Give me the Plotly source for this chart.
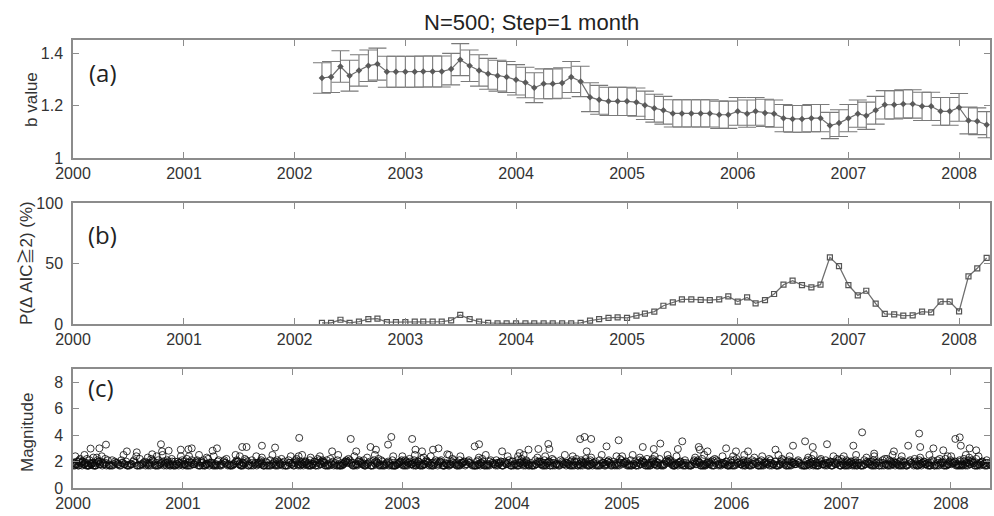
import plotly.graph_objects as go
import pandas as pd

W, H = 994, 516

# ---------------- data ----------------
month_start = "2002-04-01"
b_value = [1.305, 1.309, 1.349, 1.314, 1.334, 1.352, 1.358, 1.329, 1.329, 1.329,
           1.329, 1.330, 1.330, 1.330, 1.339, 1.375, 1.352, 1.334, 1.321, 1.314,
           1.309, 1.298, 1.288, 1.268, 1.283, 1.283, 1.286, 1.309, 1.292, 1.232,
           1.222, 1.216, 1.216, 1.216, 1.213, 1.201, 1.190, 1.182, 1.170, 1.170,
           1.170, 1.170, 1.170, 1.165, 1.165, 1.178, 1.169, 1.178, 1.172, 1.169,
           1.152, 1.149, 1.149, 1.152, 1.152, 1.124, 1.133, 1.152, 1.169, 1.161,
           1.182, 1.203, 1.203, 1.206, 1.206, 1.197, 1.197, 1.178, 1.178, 1.193,
           1.143, 1.140, 1.127]
b_err = [0.058, 0.059, 0.060, 0.059, 0.060, 0.060, 0.061, 0.059, 0.059, 0.059,
         0.059, 0.059, 0.059, 0.059, 0.060, 0.061, 0.060, 0.060, 0.059, 0.059,
         0.059, 0.058, 0.058, 0.057, 0.057, 0.057, 0.058, 0.059, 0.058, 0.055,
         0.055, 0.054, 0.054, 0.054, 0.054, 0.054, 0.053, 0.053, 0.052, 0.052,
         0.052, 0.052, 0.052, 0.052, 0.052, 0.053, 0.052, 0.053, 0.052, 0.052,
         0.052, 0.051, 0.051, 0.052, 0.052, 0.050, 0.051, 0.052, 0.052, 0.052,
         0.053, 0.054, 0.054, 0.054, 0.054, 0.054, 0.054, 0.053, 0.053, 0.053,
         0.051, 0.051, 0.050]
p_aic = [1, 1, 3.5, 1, 2, 4, 4.5, 1.5, 1.5, 1.5,
         2, 2, 2, 2, 3, 7.5, 4, 2, 1, 0.5,
         0.5, 0.5, 0.5, 0.5, 0.5, 0.5, 0.5, 0.5, 1, 2.8,
         4, 5, 5.5, 5, 6.9, 8.5, 10.2, 15.1, 17.8, 20.4,
         20.4, 20, 19.8, 20.4, 22.8, 18.5, 22, 17.1, 19.8, 24.8,
         32.5, 35.8, 32.2, 30.3, 32.5, 55.1, 47.9, 32.2, 23.7, 27.5,
         16.8, 8.3, 8, 6.9, 7.2, 10.2, 9.6, 18.5, 18.5, 10.5,
         39.4, 46, 54.7]

# (c) magnitudes: per year, one group per month; digit d -> M = 1.7 + 0.1*d
mag_band = {
    2000: "1030210412015320 2101403012510230 0120301421023016 10204130215 0130210241 2010320140 "
          "103021041 0210310250 10203014215 012031024017 20103120410253 102013021403",
    2001: "0120130421053 2103102041 1020314012502 01302104120 20130210415 1030120410 "
          "01203104215032 2010301240 1203021041027 0210310240 1023014021503 2010320140",
    2002: "10203014210352 0120310241023 2010302140153 1030210402143 01203021405 2103012041032 "
          "10201304125 0130201402143 2010310240 1023014201305 0210301240 1203102041032",
    2003: "01203102410253 2010301241023 1030210402153 01203014201 2103102041032 10201304125 "
          "0120310240213 2013021040 1020310241035 01302104120 2010301240213 1023010420",
    2004: "0120301240213 20103120410253 1030210240 0120310241023 2010302140153 1023014021 "
          "0130210241032 20103012402153 1020310241035 0120310240 2013021041032 10203014215",
    2005: "0120310240213 2010302140 1030210402153 01203014210352 20130210415 1020130412503 "
          "0120310241023 2013021040 1030210402153 0210301241032 10203014215 2010320140213",
    2006: "01203102415 2010301241023 1030210240 0120310241032 2010302140153 10201304125 "
          "0130210241032 2013021040 1020310241035 01203014210352 2010301240213 10230104205",
    2007: "01203102410253 2010301241023 1030210240 0120310241032 20103021405 1023014021305 "
          "0130210241032 2013021040 1020310241035 0120301421023 20103012405 1030210402153",
    2008: "0120310240213 20103120410253 1030210402153 0120310241023 201302",
}
band_fringe = "7 8 6 7 . 8 7 . 6 8 . 7"

big_events = [
    (2000.16, 2.98), (2000.24, 3.00), (2000.30, 3.28), (2000.49, 2.77), (2000.58, 2.70),
    (2000.72, 2.55), (2000.80, 3.31), (2000.81, 2.77), (2000.87, 2.82), (2000.98, 2.90),
    (2001.05, 2.93), (2001.08, 3.00), (2001.27, 2.82), (2001.31, 3.00), (2001.54, 3.10),
    (2001.58, 3.10), (2001.72, 3.20), (2001.84, 3.06), (2002.06, 3.79), (2002.36, 2.77),
    (2002.53, 3.71), (2002.58, 2.77), (2002.71, 3.10), (2002.76, 2.90), (2002.87, 3.28),
    (2002.90, 3.86), (2003.09, 3.71), (2003.12, 2.90), (2003.18, 2.77), (2003.28, 2.90),
    (2003.33, 3.00), (2003.41, 2.55), (2003.66, 3.15), (2003.70, 3.31), (2003.91, 2.77),
    (2004.07, 2.65), (2004.15, 2.90), (2004.24, 2.95), (2004.33, 3.33), (2004.34, 2.95),
    (2004.62, 3.70), (2004.66, 3.86), (2004.72, 3.71), (2004.68, 2.77), (2004.86, 3.15),
    (2004.97, 3.61), (2005.19, 3.10), (2005.29, 2.95), (2005.35, 3.36), (2005.51, 2.95),
    (2005.55, 3.53), (2005.70, 3.10), (2005.71, 2.90), (2005.78, 2.77), (2005.95, 3.00),
    (2006.04, 2.77), (2006.15, 2.77), (2006.40, 2.90), (2006.56, 3.20), (2006.67, 3.53),
    (2006.74, 3.10), (2006.87, 3.31), (2007.11, 3.20), (2007.19, 4.21), (2007.30, 2.60),
    (2007.48, 2.77), (2007.61, 3.20), (2007.71, 4.12), (2007.72, 3.10), (2007.84, 3.00),
    (2007.93, 2.85), (2008.04, 3.71), (2008.08, 3.83), (2008.09, 3.20), (2008.17, 3.00),
    (2008.23, 2.85),
]

title_text = "N=500; Step=1 month"
panel_labels = ["(a)", "(b)", "(c)"]
y_titles = ["b value", "P(Δ AIC≧2) (%)", "Magnitude"]

# ---------------- derived ----------------
months = pd.date_range(month_start, periods=len(b_value), freq="MS")
PHI = 0.6180339887


def dec_to_ts(y):
    yr = int(y)
    start = pd.Timestamp(year=yr, month=1, day=1)
    end = pd.Timestamp(year=yr + 1, month=1, day=1)
    return start + (end - start) * (y - yr)


fringe = band_fringe.split()
ev_t, ev_m = [], []
for yr, s in mag_band.items():
    for mi, grp in enumerate(s.split()):
        m0 = pd.Timestamp(year=yr, month=mi + 1, day=1)
        m1 = m0 + pd.offsets.MonthBegin(1)
        f = fringe[mi]
        digits = grp + (f if f != "." else "")
        for j, ch in enumerate(digits):
            frac = ((j + 1) * PHI + 0.37 * (yr % 3)) % 1.0
            ev_t.append(m0 + (m1 - m0) * frac)
            ev_m.append(1.7 + 0.1 * int(ch))
for t, m in big_events:
    ev_t.append(dec_to_ts(t))
    ev_m.append(m)

# ---------------- figure ----------------
fig = go.Figure()

fig.add_trace(go.Scatter(
    x=months, y=b_value, mode="lines+markers", xaxis="x", yaxis="y",
    line=dict(color="#6e6e6e", width=1.2),
    marker=dict(symbol="diamond", size=5, color="#5a5a5a"),
    error_y=dict(type="data", array=b_err, visible=True, color="#7a7a7a",
                 thickness=1.1, width=9),
    showlegend=False))

fig.add_trace(go.Scatter(
    x=months, y=p_aic, mode="lines+markers", xaxis="x2", yaxis="y2",
    line=dict(color="#6e6e6e", width=1.3),
    marker=dict(symbol="square-open", size=5, color="#555555", line=dict(width=1.2)),
    showlegend=False))

fig.add_trace(go.Scatter(
    x=ev_t, y=ev_m, mode="markers", xaxis="x3", yaxis="y3",
    marker=dict(symbol="circle-open", size=7, color="rgba(10,10,10,0.8)",
                line=dict(width=1)),
    showlegend=False))

X0, X1 = 73, 990
panels = [(40, 158), (203, 324), (369, 488)]

axis_common = dict(
    showline=True, linecolor="#8c8c8c", linewidth=1.5, mirror="ticks",
    ticks="inside", ticklen=6, tickcolor="#8c8c8c", tickwidth=1.2,
    showgrid=False, zeroline=False, automargin=False,
    tickfont=dict(family="Liberation Sans, Arial, sans-serif", size=16, color="#333333"),
)

x_ranges = [["2000-01-01", "2008-04-12"], ["2000-01-01", "2008-04-12"],
            ["2000-01-01", "2008-05-10"]]
y_ranges = [[1, 1.45], [0, 100], [0, 9]]
y_dticks = [0.2, 50, 2]

layout = dict(
    width=W, height=H, margin=dict(l=0, r=0, t=0, b=0, pad=0, autoexpand=False),
    paper_bgcolor="white", plot_bgcolor="white", showlegend=False,
)
for i, ((top, bot), xr, yr, dt) in enumerate(zip(panels, x_ranges, y_ranges, y_dticks)):
    sx = "" if i == 0 else str(i + 1)
    layout["xaxis" + sx] = dict(
        axis_common, type="date", range=xr, dtick="M12", tick0="2000-01-01",
        tickformat="%Y", domain=[X0 / W, X1 / W], anchor="y" + sx)
    layout["yaxis" + sx] = dict(
        axis_common, range=yr, dtick=dt, tick0=0, ticklabelstandoff=5,
        domain=[1 - bot / H, 1 - top / H], anchor="x" + sx)

fig.update_layout(**layout)

annotations = [dict(text=title_text, x=531 / W, y=1 - 23 / H, xref="paper", yref="paper",
                    showarrow=False, xanchor="center", yanchor="middle",
                    font=dict(family="Liberation Sans, Arial, sans-serif", size=22, color="#222222"))]
label_pos = [(103, 72), (102, 235), (101, 387)]
for lab, (lx, ly) in zip(panel_labels, label_pos):
    annotations.append(dict(text=lab, x=lx / W, y=1 - ly / H, xref="paper", yref="paper",
                            showarrow=False, xanchor="center", yanchor="middle",
                            font=dict(family="Open Sans, sans-serif", size=24, color="#222222")))
ytitle_pos = [(31, 100), (26, 263), (27, 433)]
for t, (tx, ty) in zip(y_titles, ytitle_pos):
    annotations.append(dict(text=t, x=tx / W, y=1 - ty / H, xref="paper", yref="paper",
                            showarrow=False, xanchor="center", yanchor="middle", textangle=-90,
                            font=dict(family="Liberation Sans, Arial, 'Noto Sans CJK JP', sans-serif",
                                      size=17, color="#333333")))
fig.update_layout(annotations=annotations)

page_js = """
document.body.style.margin = '0';
document.body.style.padding = '0';
"""
fig.write_html("out.html", post_script=page_js)
